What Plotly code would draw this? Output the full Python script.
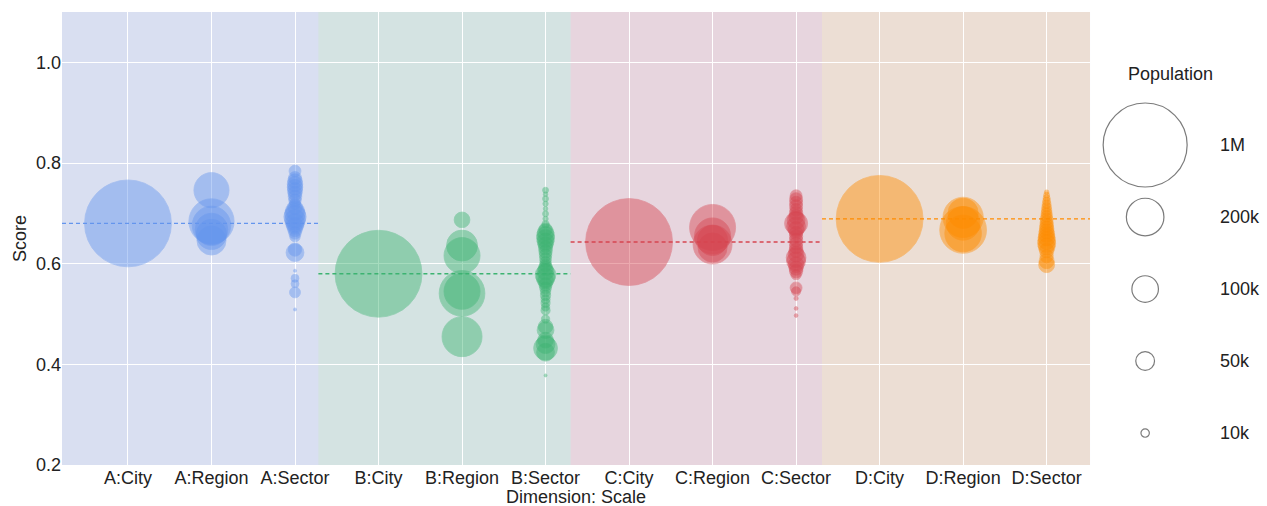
import numpy as np
import plotly.graph_objects as go

# ---- data -------------------------------------------------------------
categories = ["A:City", "A:Region", "A:Sector",
              "B:City", "B:Region", "B:Sector",
              "C:City", "C:Region", "C:Sector",
              "D:City", "D:Region", "D:Sector"]
dimensions = ["A", "B", "C", "D"]
dimension_mean = [0.680, 0.580, 0.643, 0.689]

a_city_score = [0.680]
a_city_pop = [1070000]
a_region_score = [0.746, 0.684, 0.676, 0.668, 0.658, 0.646]
a_region_pop = [175000, 290000, 210000, 150000, 130000, 120000]
a_sector_score = [0.784, 0.770, 0.764, 0.758, 0.752, 0.746, 0.740, 0.733, 0.726, 0.719,
                  0.712, 0.705, 0.699, 0.693, 0.687, 0.681, 0.675, 0.668, 0.661, 0.654,
                  0.628, 0.622, 0.586, 0.571, 0.560, 0.543, 0.509]
a_sector_pop = [20000, 24000, 30000, 34000, 34000, 32000, 28000, 26000, 22000, 18000,
                30000, 50000, 60000, 70000, 60000, 50000, 40000, 30000, 22000, 16000,
                25000, 45000, 1300, 9000, 9000, 17000, 1300]

b_city_score = [0.580]
b_city_pop = [1070000]
b_region_score = [0.687, 0.636, 0.616, 0.545, 0.541, 0.455]
b_region_pop = [35000, 136000, 184000, 184000, 296000, 227000]
b_sector_score = [0.746, 0.738, 0.729, 0.719, 0.709, 0.699, 0.689, 0.678, 0.668, 0.662,
                  0.656, 0.650, 0.644, 0.638, 0.631, 0.624, 0.617, 0.610, 0.603, 0.596,
                  0.590, 0.584, 0.578, 0.572, 0.566, 0.559, 0.552, 0.544, 0.537, 0.529,
                  0.522, 0.514, 0.507, 0.490, 0.475, 0.468, 0.448, 0.440, 0.432, 0.424,
                  0.378]
b_sector_pop = [5000, 3000, 5000, 4000, 3000, 5000, 4000, 8000, 25000, 38000,
                45000, 45000, 40000, 32000, 28000, 25000, 22000, 20000, 18000, 22000,
                30000, 40000, 60000, 50000, 35000, 25000, 20000, 15000, 15000, 12000,
                12000, 10000, 12000, 10000, 30000, 40000, 35000, 50000, 80000, 45000,
                1300]

c_city_score = [0.643]
c_city_pop = [1070000]
c_region_score = [0.672, 0.655, 0.646, 0.638, 0.632]
c_region_pop = [300000, 185000, 130000, 215000, 120000]
c_sector_score = [0.735, 0.728, 0.721, 0.714, 0.707, 0.700, 0.693, 0.686, 0.680, 0.674,
                  0.668, 0.661, 0.654, 0.647, 0.640, 0.633, 0.626, 0.619, 0.612, 0.605,
                  0.598, 0.591, 0.585, 0.578, 0.552, 0.545, 0.531, 0.511, 0.497]
c_sector_pop = [20000, 24000, 24000, 24000, 22000, 26000, 30000, 45000, 75000, 50000,
                35000, 25000, 25000, 25000, 25000, 25000, 28000, 35000, 55000, 50000,
                35000, 28000, 25000, 15000, 20000, 12000, 2500, 2000, 2000]

d_city_score = [0.689]
d_city_pop = [1070000]
d_region_score = [0.700, 0.692, 0.680, 0.667, 0.660]
d_region_pop = [130000, 230000, 160000, 310000, 190000]
d_sector_score = [0.742, 0.736, 0.730, 0.724, 0.718, 0.712, 0.706, 0.700, 0.694, 0.688,
                  0.682, 0.676, 0.670, 0.664, 0.658, 0.652, 0.646, 0.640, 0.634, 0.626,
                  0.615, 0.605, 0.598]
d_sector_pop = [3000, 5000, 7000, 9000, 11000, 13000, 15000, 17000, 19000, 22000,
                24000, 26000, 29000, 32000, 36000, 40000, 44000, 46000, 40000, 30000,
                25000, 32000, 36000]

legend_labels = ["1M", "200k", "100k", "50k", "10k"]
legend_pops = [1000000, 200000, 100000, 50000, 10000]

# ---- styling ----------------------------------------------------------
colors = {"A": "#6495ED", "B": "#3CB371", "C": "#D64550", "D": "#FF8C00"}
band_edges = [-0.79, 2.28, 5.30, 8.31, 11.52]
max_diam = 84
sizeref = 2.0 * max(legend_pops) / max_diam ** 2
font_family = "Liberation Sans, Arial, sans-serif"
text_color = "#222222"
fsize = 18

columns = [
    ("A", 0, a_city_score, a_city_pop), ("A", 1, a_region_score, a_region_pop),
    ("A", 2, a_sector_score, a_sector_pop),
    ("B", 3, b_city_score, b_city_pop), ("B", 4, b_region_score, b_region_pop),
    ("B", 5, b_sector_score, b_sector_pop),
    ("C", 6, c_city_score, c_city_pop), ("C", 7, c_region_score, c_region_pop),
    ("C", 8, c_sector_score, c_sector_pop),
    ("D", 9, d_city_score, d_city_pop), ("D", 10, d_region_score, d_region_pop),
    ("D", 11, d_sector_score, d_sector_pop),
]

fig = go.Figure()

# mean line per dimension, spanning its band
for k, dim in enumerate(dimensions):
    fig.add_trace(go.Scatter(
        x=[band_edges[k], band_edges[k + 1]],
        y=[dimension_mean[k], dimension_mean[k]],
        mode="lines",
        line=dict(color=colors[dim], width=1.4, dash="4px,3px"),
        hoverinfo="skip", showlegend=False))

# bubbles
for dim, idx, scores, pops in columns:
    fig.add_trace(go.Scatter(
        x=[idx] * len(scores), y=scores,
        mode="markers",
        marker=dict(size=pops, sizemode="area", sizeref=sizeref,
                    color=colors[dim], opacity=0.45,
                    line=dict(width=0.8, color=colors[dim])),
        name=categories[idx], showlegend=False))

# size key on its own hidden axes
fig.add_trace(go.Scatter(
    x=[0.28] * len(legend_pops), y=list(range(len(legend_pops))),
    xaxis="x2", yaxis="y2", mode="markers",
    marker=dict(size=legend_pops, sizemode="area", sizeref=sizeref,
                color="rgba(0,0,0,0)", line=dict(width=1.2, color="#444444")),
    hoverinfo="skip", showlegend=False))

annotations = []
for i, lab in enumerate(legend_labels):
    annotations.append(dict(x=0.75, y=i, xref="x2", yref="y2", text=lab,
                            showarrow=False, xanchor="left", yanchor="middle",
                            font=dict(size=fsize, color=text_color, family=font_family)))
annotations.append(dict(x=0.44, y=-0.98, xref="x2", yref="y2", text="Population",
                        showarrow=False, xanchor="center", yanchor="middle",
                        font=dict(size=fsize, color=text_color, family=font_family)))
annotations.append(dict(x=0.8603 / 2, y=0, xref="paper", yref="paper",
                        text="Dimension: Scale", showarrow=False,
                        xanchor="center", yanchor="middle", yshift=-32,
                        font=dict(size=fsize, color=text_color, family=font_family)))

# background and dimension bands
shapes = [dict(type="rect", xref="x domain", yref="y domain", x0=0, x1=1, y0=0, y1=1,
               fillcolor="#EAEAF2", line=dict(width=0), layer="below")]
for k, dim in enumerate(dimensions):
    shapes.append(dict(type="rect", xref="x", yref="y domain",
                       x0=band_edges[k], x1=band_edges[k + 1], y0=0, y1=1,
                       fillcolor=colors[dim], opacity=0.12,
                       line=dict(width=0), layer="below"))

fig.update_layout(
    width=1267, height=506,
    margin=dict(l=62, r=10, t=12, b=41),
    paper_bgcolor="white", plot_bgcolor="white",
    font=dict(family=font_family, size=fsize, color=text_color),
    shapes=shapes, annotations=annotations,
    xaxis=dict(domain=[0, 0.8603], range=[band_edges[0], band_edges[-1]],
               tickmode="array", tickvals=list(range(len(categories))),
               ticktext=categories, showgrid=True, gridcolor="white", gridwidth=1,
               zeroline=False, showline=False, ticks="", automargin=False,
               tickfont=dict(size=fsize)),
    yaxis=dict(range=[0.2, 1.1], tickvals=[0.2, 0.4, 0.6, 0.8, 1.0],
               ticktext=["0.2", "0.4", "0.6", "0.8", "1.0"],
               showgrid=True, gridcolor="white", gridwidth=1,
               zeroline=False, showline=False, ticks="", automargin=False,
               tickfont=dict(size=fsize),
               title=dict(text="Score", standoff=4,
                          font=dict(size=fsize, family=font_family))),
    xaxis2=dict(domain=[0.87, 1.0], range=[0, 1], anchor="y2", visible=False),
    yaxis2=dict(domain=[0, 1], range=[4.444, -1.847], anchor="x2", visible=False),
)

fig.write_html("out.html")
